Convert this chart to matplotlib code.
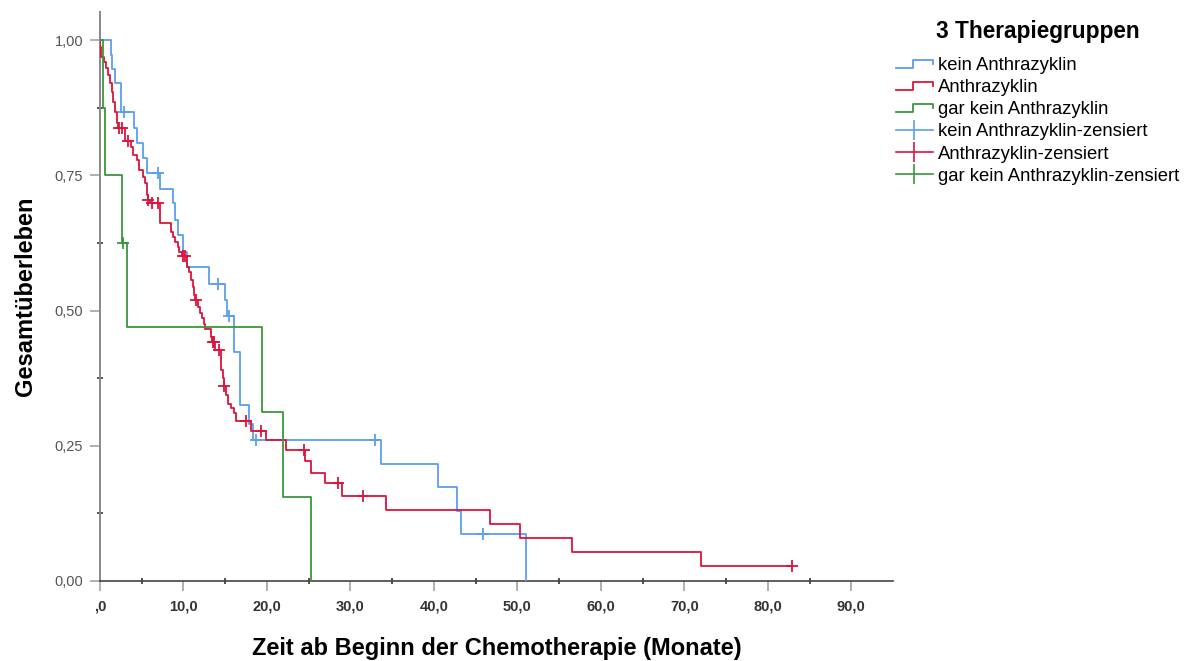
import matplotlib
matplotlib.use("Agg")
import matplotlib.pyplot as plt
from matplotlib.lines import Line2D
from matplotlib.legend_handler import HandlerLine2D

plt.rcParams['font.family'] = ['Liberation Sans', 'DejaVu Sans']

# Kaplan-Meier curves: event times (months) and survival after each step
blue_t = [0, 1.3, 1.4, 1.8, 2.5, 4.1, 4.45, 5.2, 5.6, 7.2, 8.7, 9.0, 9.35, 9.96, 10.4,
          13.0, 14.95, 15.2, 16.1, 16.8, 17.9, 18.3, 33.7, 40.5, 42.8, 43.3, 51.0]
blue_s = [1.0, 0.973, 0.946, 0.921, 0.868, 0.837, 0.809, 0.782, 0.754, 0.725, 0.698, 0.667,
          0.64, 0.609, 0.581, 0.55, 0.52, 0.49, 0.424, 0.325, 0.291, 0.26, 0.217, 0.173,
          0.13, 0.087, 0.0]
blue_cens_t = [2.9, 7.0, 14.1, 15.45, 18.7, 32.9, 45.9]
blue_cens_s = [0.868, 0.754, 0.55, 0.49, 0.26, 0.26, 0.087]

red_t = [0, 0.05, 0.15, 0.5, 0.75, 1.0, 1.2, 1.4, 1.6, 1.8, 2.0, 2.1, 3.0, 3.7, 4.0, 4.4,
         4.7, 5.1, 5.4, 5.6, 5.75, 6.0, 7.2, 8.5, 8.75, 9.0, 9.3, 9.5, 9.8, 10.4, 10.7,
         10.9, 11.1, 11.3, 11.4, 11.75, 11.95, 12.2, 12.45, 12.6, 13.25, 13.4, 13.8, 14.5,
         14.7, 14.8, 15.1, 15.3, 15.7, 16.1, 16.3, 18.1, 19.9, 22.3, 24.6, 25.3, 26.9,
         29.0, 34.3, 46.7, 50.3, 56.6, 72.0]
red_s = [1.0, 0.987, 0.968, 0.96, 0.948, 0.935, 0.92, 0.905, 0.886, 0.868, 0.846, 0.837,
         0.813, 0.803, 0.787, 0.778, 0.76, 0.747, 0.735, 0.714, 0.704, 0.698, 0.661, 0.646,
         0.636, 0.627, 0.618, 0.609, 0.6, 0.581, 0.572, 0.556, 0.544, 0.529, 0.52, 0.507,
         0.495, 0.486, 0.476, 0.465, 0.452, 0.442, 0.427, 0.39, 0.375, 0.36, 0.344, 0.328,
         0.319, 0.31, 0.296, 0.278, 0.26, 0.242, 0.221, 0.2, 0.181, 0.158, 0.132, 0.105,
         0.079, 0.053, 0.027]
red_cens_t = [2.3, 2.6, 3.3, 5.8, 6.2, 7.0, 9.96, 10.2, 11.5, 13.55, 13.7, 14.3, 14.9,
              17.5, 19.3, 24.4, 28.5, 31.5, 82.9]
red_cens_s = [0.837, 0.837, 0.813, 0.704, 0.698, 0.698, 0.6, 0.6, 0.52, 0.442, 0.442,
              0.427, 0.36, 0.296, 0.278, 0.242, 0.181, 0.158, 0.027]

green_t = [0, 0.35, 0.65, 2.6, 3.2, 19.4, 21.9, 25.3]
green_s = [1.0, 0.875, 0.75, 0.625, 0.469, 0.3125, 0.156, 0.0]
green_cens_t = [2.8]
green_cens_s = [0.625]

groups = ['kein Anthrazyklin', 'Anthrazyklin', 'gar kein Anthrazyklin']
colors = ['#5a9ef0', '#dc143c', '#3a963a']

x_ticks = [0, 10, 20, 30, 40, 50, 60, 70, 80, 90]
x_labels = [',0', '10,0', '20,0', '30,0', '40,0', '50,0', '60,0', '70,0', '80,0', '90,0']
y_ticks = [0, 0.25, 0.5, 0.75, 1.0]
y_labels = ['0,00', '0,25', '0,50', '0,75', '1,00']


class StepHandler(HandlerLine2D):
    def create_artists(self, legend, orig_handle, xdescent, ydescent, width, height,
                       fontsize, trans):
        x0, y0 = -xdescent, -ydescent
        xs = [x0, x0 + 0.45 * width, x0 + 0.45 * width, x0 + width, x0 + width]
        ys = [y0 + 0.15 * height, y0 + 0.15 * height, y0 + 0.8 * height,
              y0 + 0.8 * height, y0 + 0.45 * height]
        ln = Line2D(xs, ys, color=orig_handle.get_color(),
                    lw=orig_handle.get_linewidth())
        ln.set_transform(trans)
        return [ln]


fig = plt.figure(figsize=(11.89, 6.61), dpi=100)
ax = fig.add_axes([100 / 1189, 1 - 581 / 661, 793 / 1189, 569 / 661])

data = [(blue_t, blue_s, blue_cens_t, blue_cens_s),
        (red_t, red_s, red_cens_t, red_cens_s),
        (green_t, green_s, green_cens_t, green_cens_s)]

for (t, s, ct, cs), c in zip(data, colors):
    t = list(t)
    s = list(s)
    if ct and max(ct) > t[-1]:
        t.append(max(ct))
        s.append(s[-1])
    ax.step(t, s, where='post', color=c, lw=1.3, zorder=3)
    ax.plot(ct, cs, ls='none', marker='+', ms=9, mew=1.3, color=c, zorder=4)

ax.set_xlim(0, 95)
ax.set_ylim(0, 1.052)
ax.set_xticks(x_ticks)
ax.set_xticklabels(x_labels, fontweight='bold', color='#333333')
ax.set_yticks(y_ticks)
ax.set_yticklabels(y_labels, color='#555555')
ax.set_xticks([5, 15, 25, 35, 45, 55, 65, 75, 85], minor=True)
ax.set_yticks([0.125, 0.375, 0.625, 0.875], minor=True)

ax.tick_params(which='major', direction='out', length=7, width=1.3, color='#aaaaaa',
               labelsize=10.5)
ax.tick_params(axis='x', which='major', pad=6)
ax.tick_params(axis='y', which='major', pad=5)
ax.tick_params(which='minor', direction='inout', length=5, width=1.2, color='#333333')

for side in ['top', 'right']:
    ax.spines[side].set_visible(False)
ax.spines['left'].set_color('#888888')
ax.spines['left'].set_linewidth(1.4)
ax.spines['bottom'].set_color('#444444')
ax.spines['bottom'].set_linewidth(1.2)

ax.set_xlabel('Zeit ab Beginn der Chemotherapie (Monate)', fontsize=17,
              fontweight='bold', labelpad=17)
ax.set_ylabel('Gesamtüberleben', fontsize=17, fontweight='bold', labelpad=13)

# legend: step handles for the curves, cross handles for censored cases
step_handles = [Line2D([], [], color=c, lw=1.3) for c in colors]
cens_handles = [Line2D([], [], color=c, lw=1.2, marker='|', ms=15, mew=1.2)
                for c in colors]
handles = step_handles + cens_handles
labels = groups + [g + '-zensiert' for g in groups]
hmap = {h: StepHandler() for h in step_handles}
leg = fig.legend(handles, labels, handler_map=hmap, loc='upper left',
                 bbox_to_anchor=(896 / 1189, 1 - 20 / 661), frameon=False,
                 fontsize=13.3, title='3 Therapiegruppen', numpoints=1,
                 handlelength=2.0, handletextpad=0.25, labelspacing=0.28,
                 borderpad=0, borderaxespad=0)
leg.get_title().set_fontweight('bold')
leg.get_title().set_fontsize(16.3)
leg._legend_box.sep = 10

fig.savefig('out.png', dpi=100)
